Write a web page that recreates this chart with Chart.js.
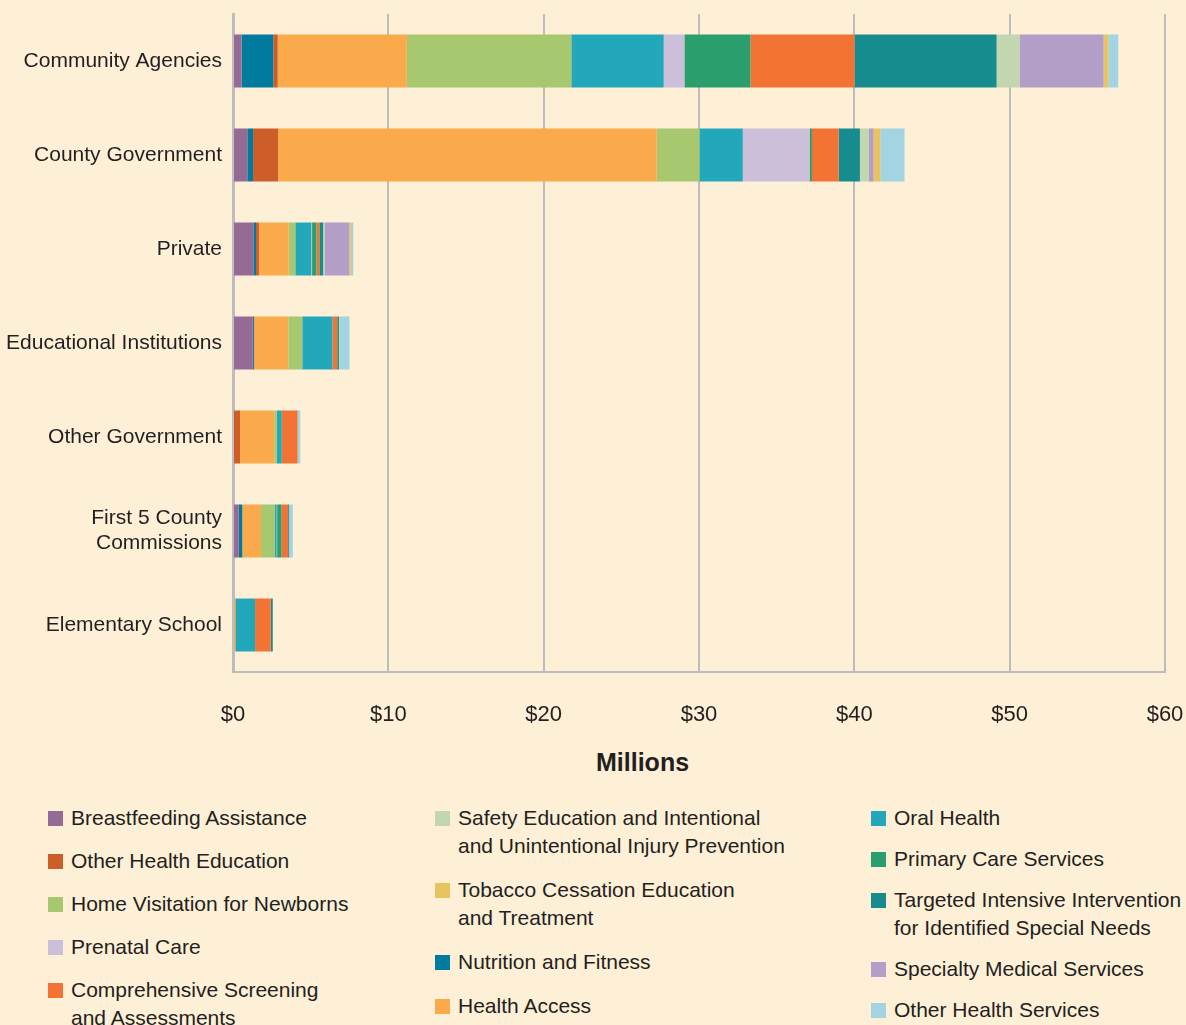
<!DOCTYPE html>
<html>
<head>
<meta charset="utf-8">
<script src="https://cdn.jsdelivr.net/npm/chart.js@4.4.1/dist/chart.umd.min.js"></script>
<style>
  body { margin: 0; background: #FEEFD7; font-family: "Liberation Sans", Arial, sans-serif; color: #231F20; }
  #wrap { position: relative; width: 1186px; height: 1025px; overflow: hidden; }
  #chart { position: absolute; left: 0; top: 0; }
  #xtitle { position: absolute; left: 596px; top: 748px; font-weight: bold; font-size: 25px; }
  .col { position: absolute; top: 804px; }
  .item { position: relative; padding-left: 23px; font-size: 21px; line-height: 28px; white-space: nowrap; }
  .item span { position: absolute; left: 0; top: 7px; width: 15px; height: 15px; }
  #col1 .item { margin-bottom: 15px; }
  #col2 .item { margin-bottom: 16px; }
  #col3 .item { margin-bottom: 13px; }
</style>
</head>
<body>
<div id="wrap">
  <canvas id="chart" width="1186" height="740"></canvas>
  <div id="xtitle">Millions</div>
  <div class="col" id="col1" style="left:48px"></div>
  <div class="col" id="col2" style="left:435px"></div>
  <div class="col" id="col3" style="left:871px"></div>
</div>
<script>
const categories = ["Community Agencies", "County Government", "Private", "Educational Institutions",
    "Other Government", ["First 5 County", "Commissions"], "Elementary School"];
const xTicks = [0, 10, 20, 30, 40, 50, 60];

// $ millions per category, in stack order
const breastfeeding = [0.56, 0.92, 1.31, 1.27, 0, 0.37, 0];
const nutrition = [2.04, 0.37, 0.17, 0.08, 0, 0.23, 0];
const otherEducation = [0.28, 1.61, 0.19, 0.02, 0.45, 0, 0];
const healthAccess = [8.31, 24.38, 1.91, 2.19, 2.21, 1.20, 0.15];
const homeVisitation = [10.59, 2.75, 0.43, 0.90, 0.15, 0.90, 0];
const oralHealth = [5.95, 2.79, 1.03, 1.95, 0.30, 0.11, 1.27];
const prenatal = [1.33, 4.30, 0.05, 0, 0, 0.03, 0];
const primaryCare = [4.25, 0.15, 0.28, 0, 0.04, 0.28, 0];
const screening = [6.70, 1.72, 0.19, 0.30, 1.01, 0.43, 1.01];
const targeted = [9.15, 1.37, 0.24, 0.11, 0, 0.06, 0.13];
const safety = [1.48, 0.58, 0.09, 0.06, 0, 0, 0];
const specialty = [5.41, 0.30, 1.59, 0, 0, 0, 0];
const tobacco = [0.30, 0.43, 0.11, 0, 0, 0, 0];
const otherServices = [0.64, 1.56, 0.15, 0.62, 0.17, 0.24, 0];

const series = [
    { label: "Breastfeeding Assistance", data: breastfeeding, color: "#956B96" },
    { label: "Nutrition and Fitness", data: nutrition, color: "#007B9D" },
    { label: "Other Health Education", data: otherEducation, color: "#CD5E29" },
    { label: "Health Access", data: healthAccess, color: "#FAAA4B" },
    { label: "Home Visitation for Newborns", data: homeVisitation, color: "#A8C86F" },
    { label: "Oral Health", data: oralHealth, color: "#22A7BB" },
    { label: "Prenatal Care", data: prenatal, color: "#CCBFDA" },
    { label: "Primary Care Services", data: primaryCare, color: "#2A9E6C" },
    { label: "Comprehensive Screening|and Assessments", data: screening, color: "#F37335" },
    { label: "Targeted Intensive Intervention|for Identified Special Needs", data: targeted, color: "#178C8E" },
    { label: "Safety Education and Intentional|and Unintentional Injury Prevention", data: safety, color: "#C2D6AF" },
    { label: "Specialty Medical Services", data: specialty, color: "#B39EC8" },
    { label: "Tobacco Cessation Education|and Treatment", data: tobacco, color: "#E9C35F" },
    { label: "Other Health Services", data: otherServices, color: "#A2D4E1" }
];

// legend columns as in the original layout
const legendCols = [
    ["Breastfeeding Assistance", "Other Health Education", "Home Visitation for Newborns", "Prenatal Care", "Comprehensive Screening|and Assessments"],
    ["Safety Education and Intentional|and Unintentional Injury Prevention", "Tobacco Cessation Education|and Treatment", "Nutrition and Fitness", "Health Access"],
    ["Oral Health", "Primary Care Services", "Targeted Intensive Intervention|for Identified Special Needs", "Specialty Medical Services", "Other Health Services"]
];

const gridColor = "#BDBDBD";
const font = { family: "'Liberation Sans', Arial, sans-serif", size: 21 };

new Chart(document.getElementById("chart"), {
    type: "bar",
    data: {
        labels: categories,
        datasets: series.map(s => ({
            label: s.label.replace("|", " "),
            data: s.data,
            backgroundColor: s.color,
            borderWidth: 0,
            barPercentage: 0.564,
            categoryPercentage: 1
        }))
    },
    options: {
        indexAxis: "y",
        responsive: false,
        animation: false,
        devicePixelRatio: 1,
        layout: { padding: { top: 14, right: 21, left: 0, bottom: 0 } },
        plugins: { legend: { display: false }, tooltip: { enabled: false } },
        scales: {
            x: {
                stacked: true,
                min: 0,
                max: 60,
                afterBuildTicks: s => { s.ticks = xTicks.map(v => ({ value: v })); },
                afterFit: s => { s.height = 68; s.paddingLeft = 0; s.paddingRight = 0; },
                ticks: { callback: v => "$" + v, color: "#231F20", font: { family: font.family, size: 22 }, padding: 30, maxRotation: 0 },
                grid: { color: gridColor, lineWidth: 2, drawTicks: false },
                border: { display: true, color: gridColor, width: 2 }
            },
            y: {
                stacked: true,
                afterFit: s => { s.width = 233; s.paddingTop = 0; s.paddingBottom = 0; },
                ticks: { color: "#231F20", font: font, padding: 11 },
                grid: { display: false, drawTicks: false },
                border: { display: true, color: gridColor, width: 3 }
            }
        }
    }
});

legendCols.forEach((col, i) => {
    const el = document.getElementById("col" + (i + 1));
    col.forEach(name => {
        const s = series.find(d => d.label === name);
        const item = document.createElement("div");
        item.className = "item";
        item.innerHTML = `<span style="background:${s.color}"></span>${name.split("|").join("<br>")}`;
        el.appendChild(item);
    });
});
</script>
</body>
</html>
